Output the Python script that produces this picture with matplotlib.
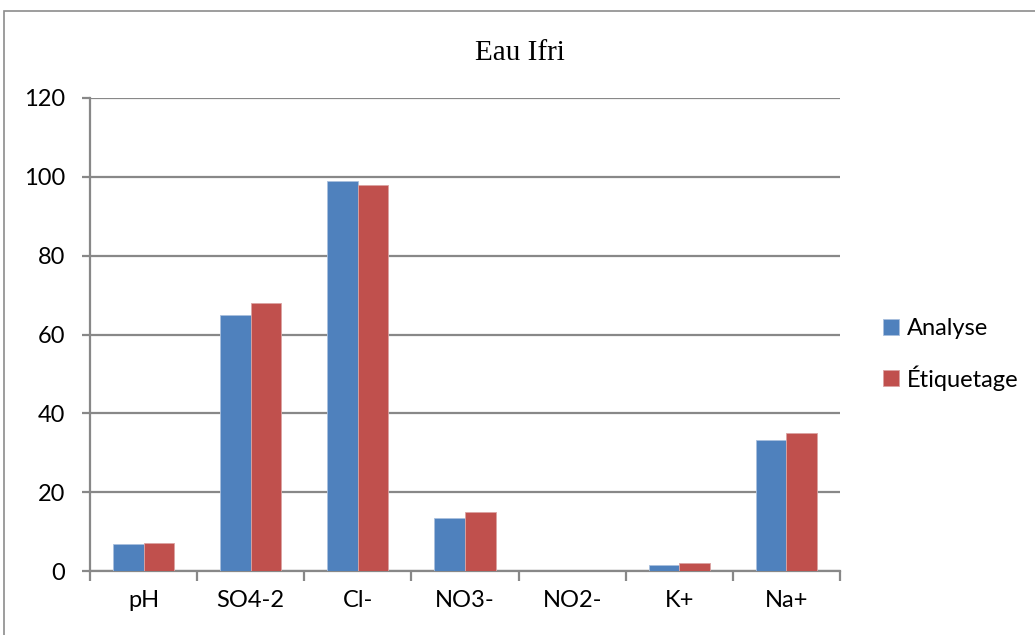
import matplotlib.pyplot as plt
import matplotlib.patches as mpatches
import numpy as np

# data
categories = ['pH', 'SO4-2', 'Cl-', 'NO3-', 'NO2-', 'K+', 'Na+']
analyse    = [6.9, 65, 99, 13.4, 0, 1.5, 33.2]
etiquetage = [7.2, 68, 98, 14.9, 0, 2.0, 35]
yticks     = [0, 20, 40, 60, 80, 100, 120]

blue = '#4F81BD'
red  = '#C0504D'
grid = '#888888'

plt.rcParams['font.family'] = ['Lato', 'DejaVu Sans']

fig = plt.figure(figsize=(10.35, 6.35), dpi=100)
ax  = fig.add_axes([90/1035, (635-571)/635, 750/1035, 473/635])

# outer chart border
fig.patches.append(mpatches.Rectangle((4/1035, -0.01), 1.02, (635-11)/635 + 0.01,
                                      transform=fig.transFigure, fill=False,
                                      edgecolor='#8c8c8c', linewidth=1.2))

x = np.arange(len(categories)) + 0.5
w = 1/3.5
ax.bar(x - w/2, analyse, w, color=blue, edgecolor='#a9c0de', linewidth=0.6, label='Analyse', zorder=3)
ax.bar(x + w/2, etiquetage, w, color=red, edgecolor='#dba3a2', linewidth=0.6, label='Étiquetage', zorder=3)

ax.set_xlim(0, len(categories))
ax.set_ylim(0, 120)
ax.set_yticks(yticks)
ax.set_yticklabels([str(v) for v in yticks], fontsize=17)
ax.yaxis.grid(True, color=grid, linewidth=1.6, zorder=0)

# category labels centred, tick marks on boundaries
ax.set_xticks(np.arange(len(categories) + 1))
ax.set_xticklabels([])
ax.set_xticks(x, minor=True)
ax.set_xticklabels(categories, minor=True, fontsize=17)
ax.tick_params(axis='x', which='minor', length=0, pad=14)
ax.tick_params(axis='x', which='major', length=7, width=1.6, color=grid)
ax.tick_params(axis='y', length=6, width=1.6, color=grid, pad=12)

for s in ['top', 'right']:
    ax.spines[s].set_visible(False)
for s in ['left', 'bottom']:
    ax.spines[s].set_color(grid)
    ax.spines[s].set_linewidth(1.6)

fig.text(520/1035, 1 - 53/635, 'Eau Ifri', family='Liberation Serif', fontsize=21,
         ha='center', va='center')

ax.legend(loc='center left', bbox_to_anchor=(1.045, 0.458), frameon=False, fontsize=17,
          handlelength=0.65, handleheight=0.65, handletextpad=0.35, labelspacing=1.1,
          borderaxespad=0)

fig.savefig('out.png', dpi=100)
